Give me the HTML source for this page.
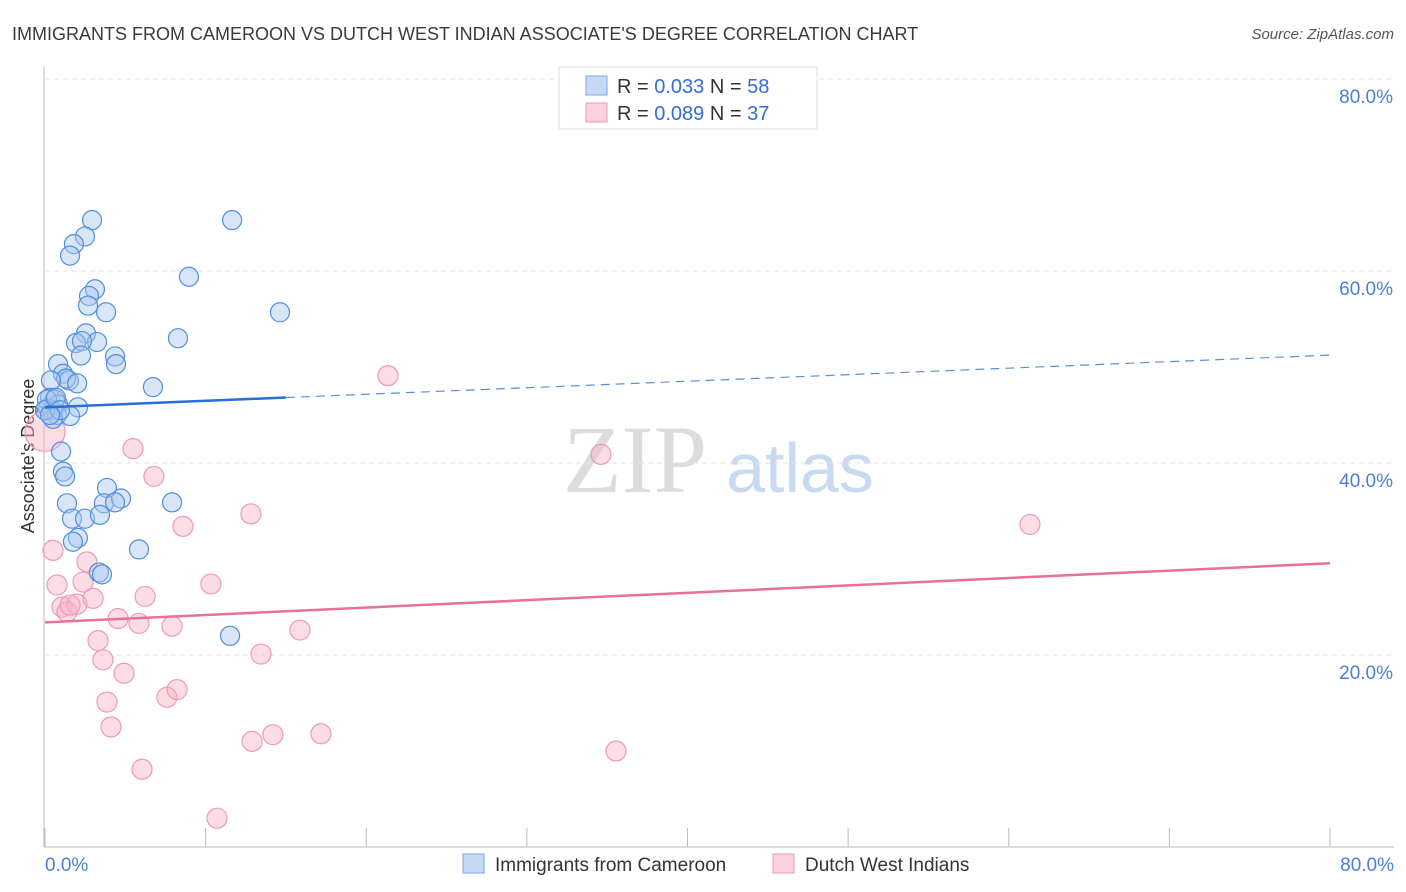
<!DOCTYPE html>
<html><head><meta charset="utf-8"><style>
body{margin:0;background:#fff;font-family:"Liberation Sans",sans-serif;}
svg{display:block}
</style></head><body>
<svg id="chart" width="1406" height="892" xmlns="http://www.w3.org/2000/svg">
<text x="12" y="40" font-size="18" fill="#3a3a3a">IMMIGRANTS FROM CAMEROON VS DUTCH WEST INDIAN ASSOCIATE'S DEGREE CORRELATION CHART</text>
<text x="1394" y="39" font-size="15" fill="#555" text-anchor="end" font-style="italic">Source: ZipAtlas.com</text>
<text x="635" y="492" font-size="96" fill="#dcdcdc" text-anchor="middle" font-family="Liberation Serif">ZIP</text>
<text x="800" y="492" font-size="70" fill="#c9d9ef" text-anchor="middle">atlas</text>
<text transform="translate(34,456) rotate(-90)" font-size="18" fill="#333" text-anchor="middle">Associate's Degree</text>
<g id="grid"></g><g id="pts"></g><g id="lines"></g>
<g>
<rect x="559" y="67" width="258" height="62" fill="#fff" stroke="#ddd"/>
<rect x="586" y="76" width="21" height="19" fill="#c5d9f5" stroke="#7aa6e6"/>
<rect x="586" y="103" width="21" height="19" fill="#fcd0dc" stroke="#ee98b2"/>
<text x="617" y="93" font-size="20" fill="#333">R = <tspan fill="#2f6fd6">0.033</tspan>   N = <tspan fill="#2f6fd6">58</tspan></text>
<text x="617" y="120" font-size="20" fill="#333">R = <tspan fill="#2f6fd6">0.089</tspan>   N = <tspan fill="#2f6fd6">37</tspan></text>
</g>
<g>
<rect x="463" y="854" width="21" height="19" fill="#c5d9f5" stroke="#7aa6e6"/>
<text x="495" y="871" font-size="19" fill="#333">Immigrants from Cameroon</text>
<rect x="773" y="854" width="21" height="19" fill="#fcd0dc" stroke="#ee98b2"/>
<text x="805" y="871" font-size="19" fill="#333">Dutch West Indians</text>
</g>
</svg>
<script>
const xTicks=[0,10,20,30,40,50,60,70,80];
const yTicks=[20,40,60,80];
const blueX=[2.93,11.65,2.49,1.8,1.56,8.96,3.11,2.74,2.68,3.8,14.63,8.28,2.55,1.93,3.24,2.30,4.36,2.24,4.42,0.81,6.72,1.12,1.49,1.31,2.0,0.37,0.31,0.62,0.81,0.19,0.44,0.75,2.05,1.56,0.50,1.0,1.12,1.25,1.37,3.86,3.67,4.73,4.36,7.91,1.68,2.49,3.42,2.05,1.74,5.85,3.36,3.55,11.52,0.12,0.0,0.68,0.93,0.31];
const blueY=[65.3,65.3,63.6,62.8,61.6,59.4,58.1,57.4,56.4,55.7,55.7,53.0,53.5,52.5,52.6,52.7,51.1,51.2,50.3,50.3,47.9,49.3,48.6,48.8,48.3,48.6,46.8,46.6,46.1,45.7,45.5,45.0,45.8,44.9,44.6,41.2,39.1,38.6,35.8,37.4,35.8,36.3,35.9,35.9,34.2,34.2,34.6,32.2,31.8,31.0,28.6,28.4,22.0,46.6,45.5,46.8,45.5,45.0];
const pinkX=[0.50,0.75,1.06,1.37,1.99,1.56,2.37,2.61,2.99,3.30,3.61,3.86,4.11,4.92,4.55,5.48,6.04,6.23,5.85,6.78,7.59,7.91,8.22,8.59,10.33,10.71,12.82,12.89,13.45,14.19,15.87,17.18,21.35,34.61,35.55,61.32,0.0];
const pinkY=[30.9,27.3,25.0,24.5,25.3,25.2,27.6,29.7,25.9,21.5,19.5,15.1,12.5,18.1,23.8,41.5,8.1,26.1,23.3,38.6,15.6,23.0,16.4,33.4,27.4,3.0,34.7,11.0,20.1,11.7,22.6,11.8,49.1,40.9,10.0,33.6,43.3];
const blueLine=[45.8,0.068]; // intercept, slope (solid until x=15)
const pinkLine=[23.4,0.077];
const X=v=>45+v*1285/80, Y=v=>847-v*768/80;
const NS="http://www.w3.org/2000/svg";
function mk(t,a,p){const e=document.createElementNS(NS,t);for(const k in a)e.setAttribute(k,a[k]);p.appendChild(e);return e;}
const grid=document.getElementById('grid');
for(const t of yTicks){
 const l=mk('line',{x1:45,x2:1394,y1:Y(t),y2:Y(t),stroke:'#e2e2e2','stroke-dasharray':'5,4'},grid);
 
 
 const tx=mk('text',{x:1393,y:Y(t)+24,'font-size':19,fill:'#4a7fd4','text-anchor':'end'},grid);
 tx.textContent=t.toFixed(1)+'%';
 
 
}
const ax=mk('line',{x1:44,x2:44,y1:67,y2:847,stroke:'#bbb'},grid);


const bx=mk('line',{x1:44,x2:1394,y1:847,y2:847,stroke:'#bbb'},grid);


for(const t of xTicks){
 const l=mk('line',{x1:X(t),x2:X(t),y1:828,y2:847,stroke:'#bbb'},grid);
 
 
}
[[0,'start',45],[80,'end',1394]].forEach(([v,a,px])=>{
 const tx=mk('text',{x:px,y:871,'font-size':19,fill:'#4a7fd4','text-anchor':a},grid);
 tx.textContent=v.toFixed(1)+'%';
 
 
});
const pts=document.getElementById('pts');
pinkX.forEach((x,i)=>{
 const r=i===pinkX.length-1?20:10;
 const c=mk('circle',{cx:X(x),cy:Y(pinkY[i]),r:r,fill:'rgba(248,180,200,0.45)',stroke:'#ec9ab4','stroke-width':1.2},pts);
 
 
});
blueX.forEach((x,i)=>{
 const c=mk('circle',{cx:X(x),cy:Y(blueY[i]),r:9.5,fill:'rgba(170,200,240,0.45)',stroke:'#4f8ee0','stroke-width':1.2},pts);
 
 
});
const lines=document.getElementById('lines');
const f=(L,x)=>L[0]+L[1]*x;
let l1=mk('line',{x1:X(0),y1:Y(f(blueLine,0)),x2:X(15),y2:Y(f(blueLine,15)),stroke:'#2a6fd6','stroke-width':2.5},lines);


let l2=mk('line',{x1:X(15),y1:Y(f(blueLine,15)),x2:X(80),y2:Y(f(blueLine,80)),stroke:'#5a8fde','stroke-width':1.2,'stroke-dasharray':'9,6'},lines);


let l3=mk('line',{x1:X(0),y1:Y(f(pinkLine,0)),x2:X(80),y2:Y(f(pinkLine,80)),stroke:'#e8709a','stroke-width':2.5},lines);


</script>
</body></html>
